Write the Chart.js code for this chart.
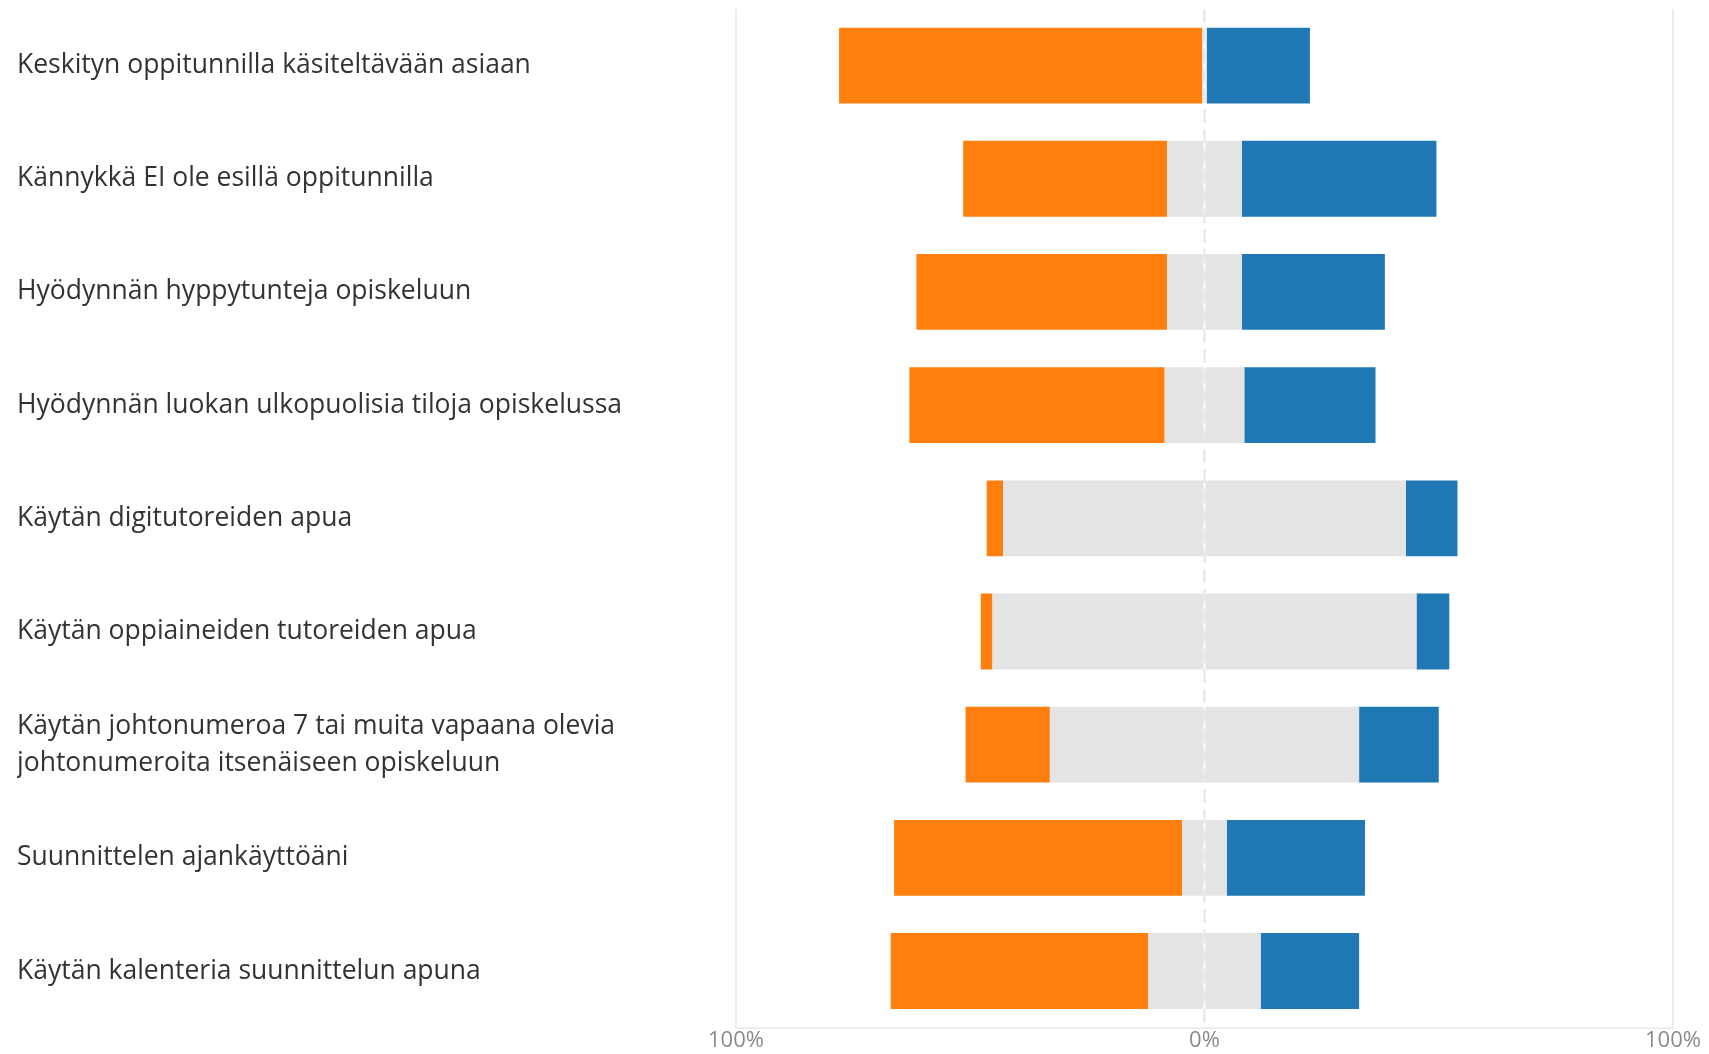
<!DOCTYPE html>
<html>
<head>
<meta charset="utf-8">
<script src="https://cdn.jsdelivr.net/npm/chart.js@4.4.1/dist/chart.umd.min.js"></script>
<style>
  html, body { margin: 0; padding: 0; background: #fff; }
  #wrap { width: 1709px; height: 1054px; position: relative; }
</style>
</head>
<body>
<div id="wrap"><canvas id="likertChart"></canvas></div>
<script>
// Diverging stacked bars: disagree (orange) left, neutral (gray) centred, agree (blue) right
const categories = [
  'Keskityn oppitunnilla käsiteltävään asiaan',
  'Kännykkä EI ole esillä oppitunnilla',
  'Hyödynnän hyppytunteja opiskeluun',
  'Hyödynnän luokan ulkopuolisia tiloja opiskelussa',
  'Käytän digitutoreiden apua',
  'Käytän oppiaineiden tutoreiden apua',
  ['Käytän johtonumeroa 7 tai muita vapaana olevia', 'johtonumeroita itsenäiseen opiskeluun'],
  'Suunnittelen ajankäyttöäni',
  'Käytän kalenteria suunnittelun apuna'
];
const disagree = [77.5, 43.5, 53.5, 54.5, 3.5, 2.5, 18, 61.5, 55];
const neutral  = [1, 16, 16, 17, 86, 90.5, 66, 9.5, 24];
const agree    = [22, 41.5, 30.5, 28, 11, 7, 17, 29.5, 21];
const tickValues = [-100, 0, 100];

const ORANGE = '#ff7f0e';
const BLUE = '#1f77b4';
const GRAY = '#e4e4e4';

// dashed line at 0%
const zeroLine = {
  id: 'zeroLine',
  beforeDatasetsDraw(chart) {
    const x = chart.scales.x.getPixelForValue(0);
    const { top, bottom } = chart.chartArea;
    const c = chart.ctx;
    c.save();
    c.strokeStyle = '#e6e6e6';
    c.lineWidth = 2;
    c.setLineDash([14, 6]);
    c.beginPath();
    c.moveTo(x, top);
    c.lineTo(x, bottom);
    c.stroke();
    c.restore();
  }
};

new Chart(document.getElementById('likertChart'), {
  type: 'bar',
  data: {
    labels: categories,
    datasets: [
      { label: 'neutral-', data: neutral.map(v => -v / 2), backgroundColor: GRAY },
      { label: 'disagree', data: disagree.map(v => -v), backgroundColor: ORANGE },
      { label: 'neutral+', data: neutral.map(v => v / 2), backgroundColor: GRAY },
      { label: 'agree', data: agree, backgroundColor: BLUE }
    ]
  },
  options: {
    indexAxis: 'y',
    responsive: true,
    maintainAspectRatio: false,
    animation: false,
    datasets: { bar: { borderWidth: 0, barPercentage: 1, categoryPercentage: 0.67 } },
    layout: { padding: { left: 17, right: 36, top: 9, bottom: 0 } },
    plugins: { legend: { display: false }, tooltip: { enabled: false } },
    scales: {
      x: {
        stacked: true,
        min: -100,
        max: 100,
        afterBuildTicks: s => { s.ticks = tickValues.map(v => ({ value: v })); },
        ticks: {
          color: '#8a8a8a',
          font: { family: 'Open Sans', size: 22 },
          padding: 0,
          callback: v => Math.abs(v) + '%'
        },
        grid: {
          drawTicks: false,
          lineWidth: 2,
          color: ctx => (ctx.tick && ctx.tick.value === 0) ? 'rgba(0,0,0,0)' : '#ebebeb'
        },
        border: { display: true, color: '#ededed', width: 2 }
      },
      y: {
        stacked: true,
        afterFit: s => { s.width = 719; s.paddingTop = 0; s.paddingBottom = 0; },
        grid: { display: false, drawTicks: false },
        border: { display: false },
        ticks: {
          crossAlign: 'far',
          color: '#333333',
          font: { family: 'Open Sans', size: 26.5, lineHeight: 1.4 },
          padding: 0
        }
      }
    }
  },
  plugins: [zeroLine]
});
</script>
</body>
</html>
